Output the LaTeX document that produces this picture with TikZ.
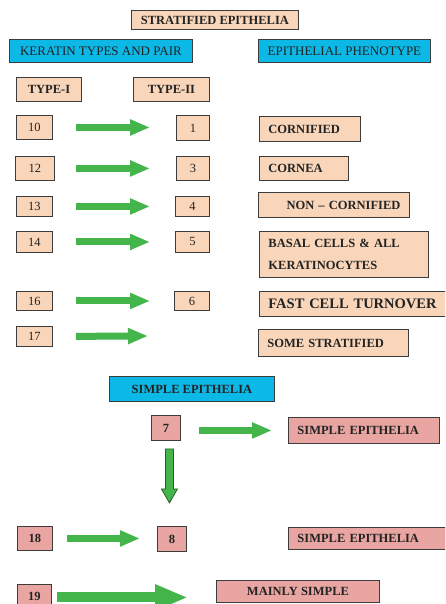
\documentclass[tikz,border=0pt]{standalone}
\usepackage{fontspec}
\setmainfont{Liberation Serif}
\usetikzlibrary{arrows.meta,calc}
\definecolor{peach}{RGB}{249,214,186}
\definecolor{cyanb}{RGB}{12,184,230}
\definecolor{pinkb}{RGB}{232,165,161}
\definecolor{agreen}{RGB}{68,181,74}
\definecolor{dgreen}{RGB}{35,95,40}
\definecolor{bordc}{RGB}{60,60,60}
\definecolor{txt}{RGB}{35,35,35}
\tikzset{
  bx/.style={draw=bordc, line width=0.9pt, inner sep=0pt, anchor=north west, text=txt,
    font=\fontsize{12.5}{15}\selectfont},
  pe/.style={bx, fill=peach},
  cy/.style={bx, fill=cyanb},
  pk/.style={bx, fill=pinkb},
  bf/.style={font=\fontsize{12.5}{15}\selectfont\bfseries},
  lt/.style={align=left, text width=#1},
  garr/.style={line width=7pt, draw=agreen, -{Triangle[length=20pt,width=15pt]}},
  bigarr/.style={line width=10pt, draw=agreen, -{Triangle[length=33pt,width=24pt]}},
}
\begin{document}
\begin{tikzpicture}[x=1pt,y=-1pt]
\clip (0,0) rectangle (445,604);
\fill[white] (0,0) rectangle (445,604);
% headers
\node[pe,bf,minimum width=167pt,minimum height=19pt] (strat) at (131,10) {STRATIFIED EPITHELIA};
\node[cy,minimum width=183pt,minimum height=23pt,font=\fontsize{13}{16}\selectfont] (ktp) at (9,39) {KERATIN TYPES AND PAIR};
\node[cy,minimum width=172pt,minimum height=23pt,font=\fontsize{13}{16}\selectfont] (eph) at (258,39) {EPITHELIAL PHENOTYPE};
\node[pe,bf,minimum width=65pt,minimum height=24pt] (t1) at (16,77) {TYPE-I};
\node[pe,bf,minimum width=76pt,minimum height=24pt] (t2) at (133,77) {TYPE-II};
% rows
\node[pe,minimum width=36pt,minimum height=24pt] (n10) at (16,115) {10};
\node[pe,minimum width=33pt,minimum height=25pt] (n1) at (176,115) {1};
\node[pe,bf,lt=83pt,minimum width=101pt,minimum height=25pt] (corn) at (259,116) {CORNIFIED};
\node[pe,minimum width=39pt,minimum height=24pt] (n12) at (15,156) {12};
\node[pe,minimum width=33pt,minimum height=24pt] (n3) at (176,156) {3};
\node[pe,bf,lt=71pt,minimum width=89pt,minimum height=24pt] (cornea) at (259,156) {CORNEA};
\node[pe,minimum width=36pt,minimum height=20pt] (n13) at (16,196) {13};
\node[pe,minimum width=34pt,minimum height=20pt] (n4) at (175,196) {4};
\node[pe,bf,align=right,text width=133pt,minimum width=151pt,minimum height=25pt] (noncorn) at (258,192) {NON -- CORNIFIED};
\node[pe,minimum width=36pt,minimum height=21pt] (n14) at (16,231) {14};
\node[pe,minimum width=34pt,minimum height=21pt] (n5) at (175,231) {5};
\node[pe,lt=151pt,minimum width=169pt,minimum height=46pt,font=\fontsize{12.5}{22}\selectfont\bfseries] (basal) at (259,231) {BASAL CELLS \& ALL\\KERATINOCYTES};
\node[pe,minimum width=36pt,minimum height=19pt] (n16) at (16,291) {16};
\node[pe,minimum width=35pt,minimum height=19pt] (n6) at (174,291) {6};
\node[pe,lt=180pt,minimum width=198pt,minimum height=25pt,font=\fontsize{14.5}{17}\selectfont\bfseries] (fast) at (259,291) {FAST CELL TURNOVER};
\node[pe,minimum width=36pt,minimum height=20pt] (n17) at (16,326) {17};
\node[pe,bf,lt=132pt,minimum width=150pt,minimum height=27pt] (some) at (258,329) {SOME STRATIFIED};
\coordinate (e17) at (148,336);
% horizontal arrows
\draw[garr,shorten <=23pt,shorten >=26pt] (n10.east) -- (n10.east -| n1.west);
\draw[garr,shorten <=21pt,shorten >=26pt] (n12.east) -- (n12.east -| n3.west);
\draw[garr,shorten <=23pt,shorten >=25pt] (n13.east) -- (n13.east -| n4.west);
\draw[garr,shorten <=23pt,shorten >=25pt] (n14.east) -- (n14.east -| n5.west);
\draw[garr,shorten <=23pt,shorten >=24pt] (n16.east) -- (n16.east -| n6.west);
\draw[garr,shorten <=23pt] (n17.east) -- (e17);
% simple epithelia
\node[cy,bf,minimum width=165pt,minimum height=25pt] (simp) at (109,376) {SIMPLE EPITHELIA};
\node[pk,bf,minimum width=29pt,minimum height=25pt] (n7) at (151,415) {7};
\node[pk,bf,lt=133pt,minimum width=151pt,minimum height=26pt] (se1) at (288,417) {SIMPLE EPITHELIA};
\node[pk,bf,minimum width=35pt,minimum height=24pt] (n18) at (17,526) {18};
\node[pk,bf,minimum width=29pt,minimum height=25pt] (n8) at (157,526) {8};
\node[pk,bf,lt=139pt,minimum width=157pt,minimum height=22pt] (se2) at (288,527) {SIMPLE EPITHELIA};
\node[pk,bf,minimum width=34pt,minimum height=24pt] (n19) at (17,584) {19};
\node[pk,bf,minimum width=163pt,minimum height=22pt] (ms) at (216,580) {MAINLY SIMPLE};
\draw[garr,shorten <=18pt,shorten >=16pt] (n7.east |- se1.west) -- (se1.west);
\draw[garr,shorten <=14pt,shorten >=17pt] (n18.east) -- (n18.east -| n8.west);
\draw[bigarr,shorten <=5pt,shorten >=28pt] ($(n19.east)+(0,1)$) -- ($(n19.east -| ms.west)+(0,1)$);
% vertical arrow 7 -> 8
\draw[fill=agreen,draw=dgreen,line width=0.8pt]
  ($(n7.south)+(-0.5,8)$) -- ($(n7.south)+(7.5,8)$) -- ($(n7.south)+(7.5,48)$)
  -- ($(n7.south)+(11.5,48)$) -- ($(n7.south)+(3.5,62)$) -- ($(n7.south)+(-4.5,48)$)
  -- ($(n7.south)+(-0.5,48)$) -- cycle;
\end{tikzpicture}
\end{document}
